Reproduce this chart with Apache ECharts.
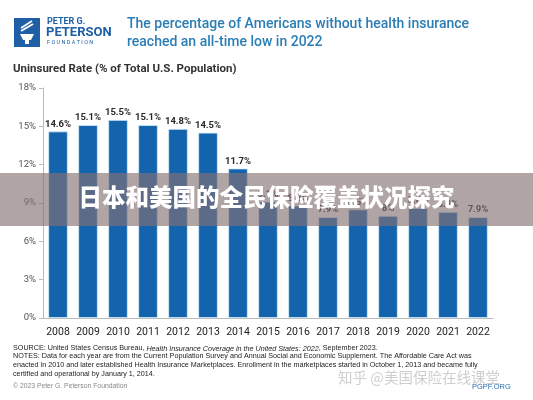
<!DOCTYPE html>
<html><head><meta charset="utf-8">
<script src="https://cdn.jsdelivr.net/npm/echarts@6/dist/echarts.min.js"></script>
<style>html,body{margin:0;padding:0;background:#fff}#c{width:533px;height:400px}</style>
</head><body><div id="c"></div>
<script>
var years = ['2008','2009','2010','2011','2012','2013','2014','2015','2016','2017','2018','2019','2020','2021','2022'];
var uninsuredRate = [14.6,15.1,15.5,15.1,14.8,14.5,11.7,9.1,8.8,7.9,8.5,8.0,8.6,8.3,7.9];
var yTicks = [0,3,6,9,12,15,18];

var chart = echarts.init(document.getElementById('c'));
var F = 'Roboto, "Liberation Sans", Arial, sans-serif';
var FS = '"Liberation Sans", Arial, sans-serif';
chart.setOption({
  animation: false,
  grid: {left: 43, right: 40, top: 88, bottom: 82},
  xAxis: {
    type: 'category', data: years,
    axisLine: {lineStyle: {color: '#bbbbbb', width: 1}},
    axisTick: {show: false},
    axisLabel: {color: '#222', fontSize: 10.5, fontFamily: F, margin: 9, interval: 0, hideOverlap: false}
  },
  yAxis: {
    type: 'value', min: yTicks[0], max: yTicks[yTicks.length-1], interval: 3,
    axisLine: {show: true, lineStyle: {color: '#bbbbbb'}},
    axisTick: {show: true, length: 4, lineStyle: {color: '#bbbbbb'}},
    splitLine: {show: false},
    axisLabel: {color: '#555', fontSize: 9.5, fontFamily: F, margin: 7, formatter: '{value}%'}
  },
  series: [{
    type: 'bar', data: uninsuredRate, barWidth: '65%',
    itemStyle: {color: '#1463ad', borderColor: '#d6f0fb', borderWidth: 0.8},
    label: {show: true, position: 'top', distance: 2, color: '#2a2a2a', fontSize: 9.5, fontWeight: 'bold', fontFamily: F, formatter: '{c}%'}
  }],
  graphic: [
    {type: 'rect', z: 50, shape: {x: 14, y: 18, width: 26, height: 29}, style: {fill: '#1e5fa6'}},
    {type: 'polygon', z: 51, shape: {points: [[20,34],[34,34],[31,40],[23,40]]}, style: {fill: '#fff'}},
    {type: 'rect', z: 51, shape: {x: 25, y: 40, width: 4, height: 4}, style: {fill: '#fff'}},
    {type: 'polyline', z: 51, shape: {points: [[21,31],[33,24]]}, style: {stroke: '#fff', lineWidth: 2, fill: null}},
    {type: 'polyline', z: 51, shape: {points: [[21,28],[32,21]]}, style: {stroke: '#fff', lineWidth: 1.6, fill: null}},
    {type: 'text', z: 50, left: 47, top: 17, style: {text: 'PETER G.', fill: '#1e5fa6', font: 'bold 9px ' + F}},
    {type: 'text', z: 50, left: 46, top: 26, style: {text: 'PETERSON', fill: '#1e5fa6', font: 'bold 13px ' + F}},
    {type: 'text', z: 50, left: 47, top: 40, style: {text: 'F O U N D A T I O N', fill: '#1e5fa6', font: '5.5px ' + F}},
    {type: 'text', z: 50, left: 127, top: 17, style: {text: 'The percentage of Americans without health insurance', fill: '#2a7db5', font: '500 14px ' + F}},
    {type: 'text', z: 50, left: 127, top: 35, style: {text: 'reached an all-time low in 2022', fill: '#2a7db5', font: '500 14px ' + F}},
    {type: 'text', z: 50, left: 13, top: 63, style: {text: 'Uninsured Rate (% of Total U.S. Population)', fill: '#333', font: 'bold 11.5px ' + F}},
    {type: 'text', z: 50, left: 13, top: 345, style: {
      text: '{n|SOURCE: United States Census Bureau, }{i|Health Insurance Coverage in the United States: 2022}{n|, September 2023.}',
      rich: {n: {font: '7.2px ' + FS, fill: '#222'}, i: {font: 'italic 7.2px ' + FS, fill: '#222'}}}},
    {type: 'text', z: 50, left: 13, top: 353, style: {text: 'NOTES: Data for each year are from the Current Population Survey and Annual Social and Economic Supplement. The Affordable Care Act was', fill: '#222', font: '7.2px ' + FS}},
    {type: 'text', z: 50, left: 13, top: 362, style: {text: 'enacted in 2010 and later established Health Insurance Marketplaces. Enrollment in the marketplaces started in October 1, 2013 and became fully', fill: '#222', font: '7.2px ' + FS}},
    {type: 'text', z: 50, left: 13, top: 371, style: {text: 'certified and operational by January 1, 2014.', fill: '#222', font: '7.2px ' + FS}},
    {type: 'text', z: 50, left: 13, top: 383, style: {text: '© 2023 Peter G. Peterson Foundation', fill: '#888', font: '6.8px ' + FS}},
    {type: 'text', z: 50, left: 472, top: 383, style: {text: 'PGPF.ORG', fill: '#2a6fb0', font: '7.5px ' + FS}},
    {type: 'text', z: 60, left: 338, top: 370, style: {text: '知乎 @美国保险在线课堂', fill: 'rgba(190,190,190,0.75)', font: '14.5px "Noto Sans CJK SC", sans-serif'}},
    {type: 'rect', z: 100, shape: {x: 0, y: 173, width: 533, height: 53}, style: {fill: 'rgba(133,113,114,0.64)'}},
    {type: 'text', z: 101, left: 'center', top: 185, style: {text: '日本和美国的全民保险覆盖状况探究', fill: '#fff', font: '900 23.5px "Noto Sans CJK SC", sans-serif'}}
  ]
});
</script></body></html>
